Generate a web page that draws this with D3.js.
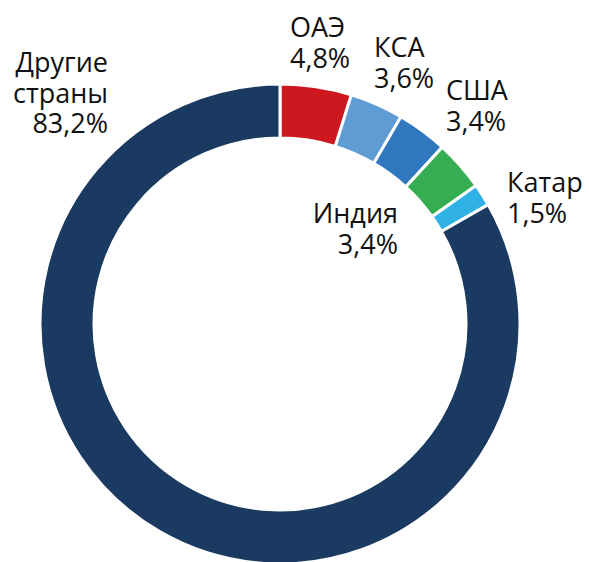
<!DOCTYPE html>
<html>
<head>
<meta charset="utf-8">
<script src="https://cdn.jsdelivr.net/npm/d3@7"></script>
<style>
  html, body { margin: 0; padding: 0; background: #fff; }
  svg { display: block; }
  text { font-family: "Open Sans", "Noto Sans", sans-serif; fill: #111; }
</style>
</head>
<body>
<svg id="chart" width="589" height="562"></svg>
<script>
// Data (clockwise from 12 o'clock)
const countries = ["ОАЭ", "КСА", "США", "Индия", "Катар", "Другие страны"];
const shares = [4.8, 3.6, 3.4, 3.4, 1.5, 83.2];
const shareLabels = ["4,8%", "3,6%", "3,4%", "3,4%", "1,5%", "83,2%"];
const colors = ["#cd181f", "#5f9cd4", "#2f78bf", "#37ad53", "#2fb1e6", "#1b3a62"];

// Label layout: anchor x, first baseline y, text-anchor
const labelLayout = [
  { x: 290, y: 37, anchor: "start" },
  { x: 374, y: 57, anchor: "start" },
  { x: 446, y: 100, anchor: "start" },
  { x: 398, y: 223, anchor: "end" },
  { x: 507, y: 192, anchor: "start" },
  { x: 108, y: 72, anchor: "end" }
];

const width = 589, height = 562;
const cx = 280, cy = 324, outerR = 240, innerR = 186;
const fontSize = 27, lineH = 30.5;

const svg = d3.select("#chart");
const data = countries.map((c, i) => ({ country: c, value: shares[i], label: shareLabels[i], color: colors[i] }));

const pie = d3.pie().sort(null).value(d => d.value).startAngle(0).endAngle(2 * Math.PI);
const arc = d3.arc().innerRadius(innerR).outerRadius(outerR);

const g = svg.append("g").attr("transform", `translate(${cx},${cy})`);
g.selectAll("path")
  .data(pie(data))
  .join("path")
  .attr("d", arc)
  .attr("fill", d => d.data.color)
  .attr("stroke", "#fff")
  .attr("stroke-width", 3)
  .attr("stroke-linejoin", "miter");

const labels = svg.append("g");
data.forEach((d, i) => {
  const L = labelLayout[i];
  const lines = d.country === "Другие страны" ? ["Другие", "страны", d.label] : [d.country, d.label];
  const t = labels.append("text")
    .attr("text-anchor", L.anchor)
    .attr("font-size", fontSize);
  lines.forEach((ln, k) => {
    t.append("tspan").attr("x", L.x).attr("y", L.y + k * lineH).text(ln);
  });
});
</script>
</body>
</html>
